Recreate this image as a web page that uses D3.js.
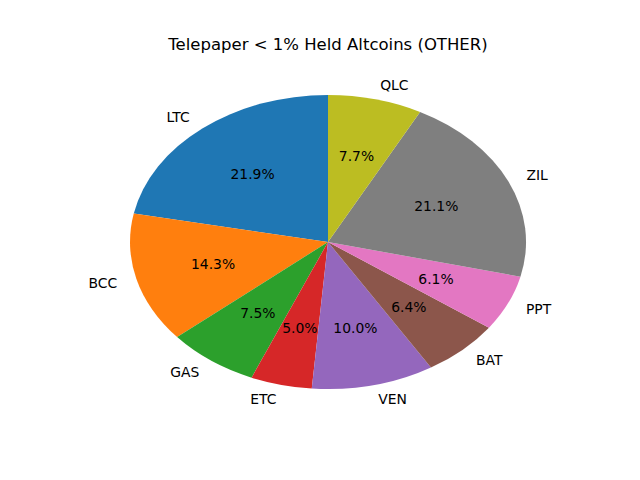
<!DOCTYPE html>
<html>
<head>
<meta charset="utf-8">
<script src="https://cdn.jsdelivr.net/npm/d3@7"></script>
<style>
  body { margin: 0; background: #fff; }
  text { font-family: "DejaVu Sans", sans-serif; }
</style>
</head>
<body>
<div id="chart"></div>
<script>
// data
var coins = ["LTC", "BCC", "GAS", "ETC", "VEN", "BAT", "PPT", "ZIL", "QLC"];
var shares = [21.9, 14.3, 7.5, 5.0, 10.0, 6.4, 6.1, 21.1, 7.7];
var colors = ["#1f77b4", "#ff7f0e", "#2ca02c", "#d62728", "#9467bd",
              "#8c564b", "#e377c2", "#7f7f7f", "#bcbd22"];

var width = 640, height = 480;
var cx = 328, cy = 242, rx = 198, ry = 147;

var svg = d3.select("#chart")
  .append("svg")
  .attr("width", width)
  .attr("height", height);

svg.append("text")
  .attr("x", 328)
  .attr("y", 50)
  .attr("text-anchor", "middle")
  .style("font-size", "16.5px")
  .text("Telepaper < 1% Held Altcoins (OTHER)");

var data = coins.map(function(c, i) { return {name: c, value: shares[i], color: colors[i]}; });

// counterclockwise from the top, like matplotlib startangle=90
var pie = d3.pie()
  .value(function(d) { return d.value; })
  .sort(null)
  .startAngle(0)
  .endAngle(-2 * Math.PI);

var arcs = pie(data);

var arc = d3.arc().innerRadius(0).outerRadius(1);

var g = svg.append("g")
  .attr("transform", "translate(" + cx + "," + cy + ")");

// slices drawn on a unit circle, then stretched into the ellipse
g.append("g")
  .attr("transform", "scale(" + rx + "," + ry + ")")
  .selectAll("path")
  .data(arcs)
  .enter()
  .append("path")
  .attr("d", arc)
  .attr("fill", function(d) { return d.data.color; });

function pos(d, k) {
  var a = (d.startAngle + d.endAngle) / 2;
  return [Math.sin(a) * k * rx, -Math.cos(a) * k * ry];
}

// category labels
g.selectAll(".lab")
  .data(arcs)
  .enter()
  .append("text")
  .attr("class", "lab")
  .attr("x", function(d) { return pos(d, 1.1)[0]; })
  .attr("y", function(d) { return pos(d, 1.1)[1]; })
  .attr("dy", "0.35em")
  .attr("text-anchor", function(d) { return pos(d, 1.1)[0] > 0 ? "start" : "end"; })
  .style("font-size", "13.9px")
  .text(function(d) { return d.data.name; });

// percentages
g.selectAll(".pct")
  .data(arcs)
  .enter()
  .append("text")
  .attr("class", "pct")
  .attr("x", function(d) { return pos(d, 0.6)[0]; })
  .attr("y", function(d) { return pos(d, 0.6)[1]; })
  .attr("dy", "0.35em")
  .attr("text-anchor", "middle")
  .style("font-size", "13.9px")
  .text(function(d) { return d.data.value.toFixed(1) + "%"; });
</script>
</body>
</html>
